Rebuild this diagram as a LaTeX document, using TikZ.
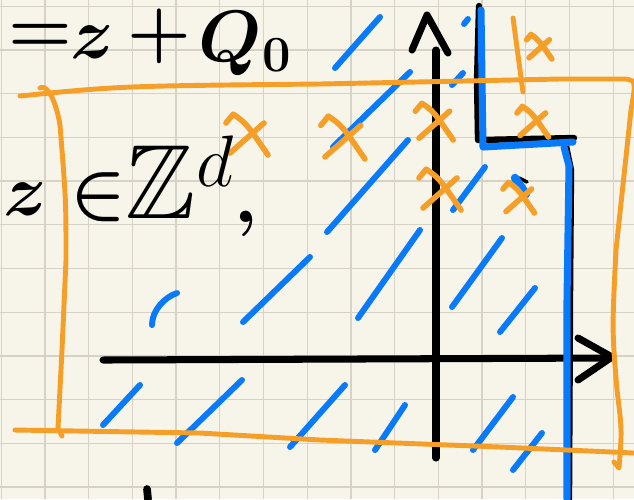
\documentclass[tikz,border=0pt]{standalone}
\usepackage{amssymb}
\definecolor{paper}{RGB}{247,245,234}
\definecolor{gridline}{RGB}{214,211,198}
\definecolor{hlorange}{RGB}{245,158,40}
\definecolor{hlblue}{RGB}{8,122,250}
\tikzset{
  pen/.style={line cap=round,line join=round},
  ink/.style={pen,black,line width=2pt},
  hatch/.style={pen,hlblue,line width=1.7pt},
  frame/.style={pen,hlorange,line width=1.4pt},
  hand/.style={inner sep=0pt,font=\fontsize{22}{26}\selectfont\boldmath}
}
% handwritten orange cross, centre (#1,#2), half size #3
\newcommand\handx[3]{%
  \begin{scope}[shift={(#1,#2)}]
    \draw[frame,line width=1.6pt] (-0.6*#3,-0.3*#3) -- (-0.42*#3,-0.52*#3)
      .. controls (-0.1*#3,-0.3*#3) .. (0.45*#3,0.5*#3);
    \draw[frame,line width=1.6pt] (-0.5*#3,0.45*#3) -- (0.35*#3,-0.3*#3);
  \end{scope}}
\begin{document}
\begin{tikzpicture}[x=0.01cm,y=-0.01cm]
  \fill[paper] (0,0) rectangle (634,499);
  \useasboundingbox (0,0) rectangle (634,499);
  \foreach \k in {0,...,14}
    \draw[gridline,line width=0.35pt] (1.3+43.7*\k,0) -- (1.3+43.7*\k,499);
  \foreach \k in {0,...,11}
    \draw[gridline,line width=0.35pt] (0,6.3+43.7*\k) -- (634,6.3+43.7*\k);

  % hatching
  \foreach \xa/\ya/\xb/\yb in {335/68/380/17, 464/24/468/19, 333/147/410/72, 452/85/463/73,
      327/232/408/140, 453/210/485/167, 358/318/420/230, 452/307/502/238, 500/332/535/288,
      243/322/310/257, 103/425/140/385, 177/443/242/380, 290/447/345/385, 375/450/405/405,
      473/450/513/397, 513/470/542/433}
    \draw[hatch] (\xa,\ya) -- (\xb,\yb);
  \draw[hatch] (152,325) .. controls (152,310) and (165,297) .. (177,293);
  \draw[ink,line width=1pt] (519,178) -- (527,182);
  \draw[hatch,line width=2.4pt] (515,178) -- (526,194);

  % axes
  \coordinate (xl) at (103,360);
  \coordinate (xr) at (610,358);
  \coordinate (yb) at (436,458);
  \coordinate (yt) at (436,50);
  \draw[ink] (xl) -- (xr);
  \draw[ink] (578,338) -- (612,357) -- (578,380);
  \draw[ink] (yb) -- (yt);
  \draw[ink] (412,50) -- (427,15) -- (448,53);

  % boundary
  \draw[ink,line width=1.8pt] (479,6) -- (477,80) -- (478,140) -- (574,138);
  \draw[ink,line width=1.8pt] (566,146) -- (571,170) -- (570,300) -- (569,499);
  \draw[hatch,line width=2pt] (481,10) -- (482,80) -- (483,147) -- (573,142);
  \draw[hatch,line width=2pt] (564,147) -- (569,166) -- (567,300) -- (567,499);

  % orange frame
  \draw[frame] (20,96) .. controls (120,86) .. (320,84) -- (560,79) -- (626,79)
    .. controls (636,81) .. (631,110) -- (616,250) .. controls (612,330) .. (617,390)
    .. controls (622,430) .. (619,468) -- (614,462);
  \draw[frame] (40,88) .. controls (45,84) and (55,95) .. (60,125)
    .. controls (66,200) .. (66,260) -- (62,350) -- (58,428) -- (62,436);
  \draw[frame] (15,430) -- (200,433) .. controls (260,436) .. (320,440)
    -- (500,447) -- (634,453);
  \draw[frame] (513,18) -- (523,92);
  \handx{250}{135}{40}
  \handx{346}{138}{42}
  \handx{437}{122}{36}
  \handx{541}{47}{24}
  \handx{535}{122}{30}
  \handx{443}{190}{40}
  \handx{521}{198}{30}

  % text
  \node[hand,anchor=base west] (eq) at (8,52) {$=$};
  \node[hand,anchor=base west] (zz) at (70,58) {$z$};
  \node[hand,anchor=base west] (plus) at (127,54) {$+$};
  \node[hand,anchor=base west] (qo) at (198,61) {$Q_0$};
  \node[hand,anchor=base west] (zin) at (3,215) {$z\in$};
  \node[hand,anchor=base west,font=\fontsize{30}{34}\selectfont] (zd) at (125,218) {$\mathbb{Z}^d$};
  \node[hand,anchor=base west] (comma) at (234,222) {$,$};
  \draw[ink,line width=2.2pt] (147,489) -- (148,499);
\end{tikzpicture}
\end{document}
